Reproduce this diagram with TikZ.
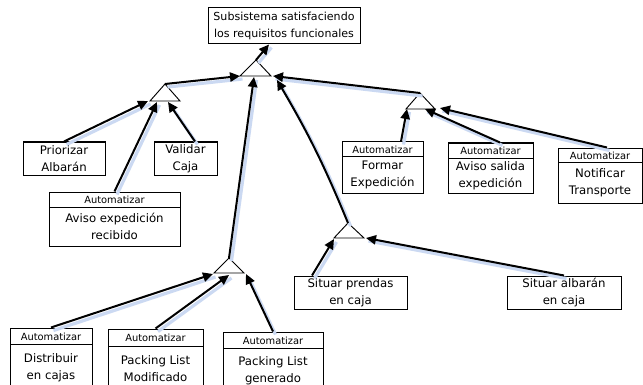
\documentclass[tikz,border=0pt]{standalone}
\usepackage{fontspec}
\setmainfont{DejaVu Sans}
\usetikzlibrary{arrows.meta,calc}
\definecolor{shadowblue}{RGB}{203,217,242}
\newcommand\mainsize{\fontsize{8.8}{12.8}\selectfont}
\newcommand\topsize{\fontsize{8.3}{12.5}\selectfont}
\newcommand\hdrsize{\fontsize{7.4}{8}\selectfont}
\tikzset{
  box/.style={draw, line width=0.75pt, inner sep=0pt, fill=white, align=center, font=\mainsize},
  hdr/.style={inner sep=0pt, font=\hdrsize},
  body/.style={inner sep=0pt, align=center, font=\mainsize},
  boxline/.style={line width=0.75pt},
  tri/.style={draw, line width=0.7pt, fill=white},
  conn/.style={line width=1.5pt, -{Triangle[length=7.5pt,width=7pt]},
    preaction={draw=shadowblue, line width=2.4pt, arrows=-, transform canvas={shift={(2.5,3)}}}},
}
\newcommand\plainbox[6]{%
  \node[box, minimum width={(#4-#2)*0.75pt}, minimum height={(#5-#3)*0.75pt}] (#1) at ({(#2+#4)/2},{(#3+#5)/2}) {#6};}
\newcommand\autobox[7]{%
  \node[box, minimum width={(#4-#2)*0.75pt}, minimum height={(#5-#3)*0.75pt}] (#1) at ({(#2+#4)/2},{(#3+#5)/2}) {};
  \draw[boxline] (#2,#6) -- (#4,#6);
  \node[hdr] (#1h) at ({(#2+#4)/2},{(#3+#6)/2+0.5}) {Automatizar};
  \node[body] (#1b) at ({(#2+#4)/2},{(#6+#5)/2}) {#7};}
\begin{document}
\begin{tikzpicture}[x=0.75pt,y=-0.75pt]
\useasboundingbox (0,0) rectangle (643,385);
\clip (0,0) rectangle (643,385);
\fill[white] (0,0) rectangle (643,385);
% boxes
\plainbox{top}{208}{8}{360}{44}{\topsize Subsistema satisfaciendo\\\topsize los requisitos funcionales}
\plainbox{prio}{23}{142}{105}{175}{Priorizar\\Albarán}
\plainbox{valid}{154}{142}{217}{175}{Validar\\Caja}
\autobox{avrec}{49}{192}{180}{246}{207}{Aviso expedición\\recibido}
\autobox{formar}{342}{142}{423}{193}{156}{Formar\\Expedición}
\autobox{avsal}{448}{143}{533}{193}{158}{Aviso salida\\expedición}
\autobox{notif}{558}{148}{642}{203}{162}{Notificar\\Transporte}
\plainbox{prendas}{294}{276}{407}{309}{Situar prendas\\en caja}
\plainbox{albaran}{507}{276}{621}{309}{Situar albarán\\en caja}
\autobox{distr}{10}{328}{92}{392}{344}{Distribuir\\en cajas}
\autobox{plm}{108}{329}{203}{392}{346}{Packing List\\Modificado}
\autobox{plg}{223}{332}{323}{394}{348}{Packing List\\generado}
% triangles
\coordinate (t0a) at (256,60); \coordinate (t0l) at (240,76); \coordinate (t0r) at (271,76);
\coordinate (t1a) at (165,84); \coordinate (t1l) at (150,101); \coordinate (t1r) at (180,101);
\coordinate (t2a) at (420,93); \coordinate (t2l) at (406,109); \coordinate (t2r) at (435,109);
\coordinate (t3a) at (229,258); \coordinate (t3l) at (214,273); \coordinate (t3r) at (244,273);
\coordinate (t4a) at (348,223); \coordinate (t4l) at (334,238); \coordinate (t4r) at (364,238);
\foreach \t in {t0,t1,t2,t3,t4} \draw[tri] (\t a) -- (\t l) -- (\t r) -- cycle;
% landing points
\coordinate (p01) at (240,76); \coordinate (p02) at (254,77);
\coordinate (p03) at (273,76); \coordinate (p04) at (277,80);
\coordinate (p11) at (148,101); \coordinate (p12) at (157,102); \coordinate (p13) at (168,102);
\coordinate (p21) at (407,109); \coordinate (p22) at (425,109); \coordinate (p23) at (440,108);
\coordinate (p31) at (213,274); \coordinate (p32) at (229,275); \coordinate (p33) at (246,274);
\coordinate (p41) at (334,239); \coordinate (p42) at (366,238);
% connectors
\draw[conn] (t0a) -- ($(top.south)+(-15,0)$);
\draw[conn] (t1a) -- (p01);
\draw[conn] (t3a) -- (p02);
\draw[conn] (t2a) -- (p03);
\draw[conn] (t4a) to[bend right=4] (p04);
\draw[conn] (prio.north) -- (p11);
\draw[conn] (avrec.north) -- (p12);
\draw[conn] ($(valid.north)+(9.5,0)$) -- (p13);
\draw[conn] ($(formar.north)+(18.5,0)$) -- (p21);
\draw[conn] ($(avsal.north)+(9.5,0)$) -- (p22);
\draw[conn] ($(notif.north)+(7,0)$) -- (p23);
\draw[conn] ($(prendas.north)+(-38.5,0)$) -- (p41);
\draw[conn] (albaran.north) -- (p42);
\draw[conn] (distr.north) -- (p31);
\draw[conn] (plm.north) -- (p32);
\draw[conn] (plg.north) -- (p33);
\end{tikzpicture}
\end{document}
